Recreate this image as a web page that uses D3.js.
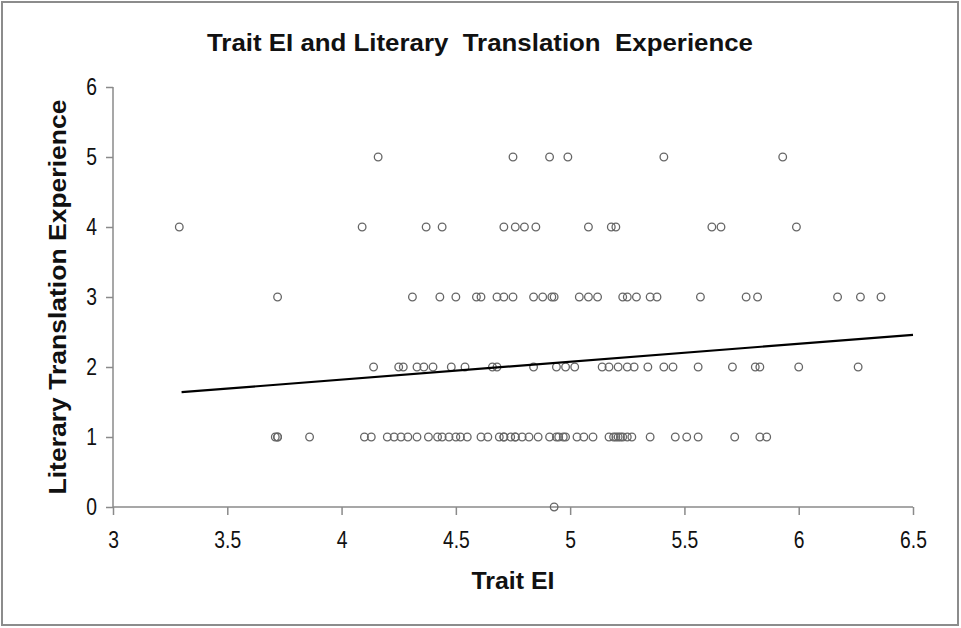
<!DOCTYPE html>
<html>
<head>
<meta charset="utf-8">
<script src="https://cdn.jsdelivr.net/npm/d3@7"></script>
<style>
  body { margin: 0; background: #fff; }
  text { font-family: "Liberation Sans Narrow", "Arial Narrow", "Liberation Sans", Arial, sans-serif; fill: #111; }
  .axis path, .axis line { stroke: #8a8a8a; stroke-width: 1.5; }
</style>
</head>
<body>
<div id="chart"></div>
<script>
// Trait EI scores (x) grouped by literary translation experience level (y)
const level0 = [4.93];
const level1 = [3.71, 3.72, 3.72, 3.86, 4.10, 4.13, 4.20, 4.23, 4.26, 4.29, 4.33, 4.38, 4.42, 4.44,
    4.47, 4.50, 4.52, 4.55, 4.61, 4.64, 4.69, 4.71, 4.71, 4.74, 4.76, 4.76, 4.79, 4.82, 4.86, 4.91,
    4.94, 4.95, 4.97, 4.98, 5.03, 5.06, 5.10, 5.17, 5.19, 5.20, 5.21, 5.22, 5.23, 5.25, 5.27, 5.35,
    5.46, 5.51, 5.56, 5.72, 5.83, 5.86];
const level2 = [4.14, 4.25, 4.27, 4.33, 4.36, 4.40, 4.48, 4.54, 4.66, 4.68, 4.84, 4.94, 4.98, 5.02,
    5.14, 5.17, 5.21, 5.25, 5.28, 5.34, 5.41, 5.45, 5.56, 5.71, 5.81, 5.83, 6.00, 6.26];
const level3 = [3.72, 4.31, 4.43, 4.50, 4.59, 4.61, 4.68, 4.71, 4.75, 4.84, 4.88, 4.92, 4.93, 5.04,
    5.08, 5.12, 5.23, 5.25, 5.29, 5.35, 5.38, 5.57, 5.77, 5.82, 6.17, 6.27, 6.36];
const level4 = [3.29, 4.09, 4.37, 4.44, 4.71, 4.76, 4.80, 4.85, 5.08, 5.18, 5.20, 5.62, 5.66, 5.99];
const level5 = [4.16, 4.75, 4.91, 4.99, 5.41, 5.93];

// linear trend line end points
const trendX = [3.3, 6.5];
const trendY = [1.64, 2.46];

const xTicks = [3, 3.5, 4, 4.5, 5, 5.5, 6, 6.5];
const yTicks = [0, 1, 2, 3, 4, 5, 6];

const chartTitle = "Trait EI and Literary  Translation  Experience";
const xTitle = "Trait EI";
const yTitle = "Literary Translation Experience";

const W = 961, H = 628;
const margin = {top: 87, right: 48, bottom: 121, left: 113};
const width = W - margin.left - margin.right;
const height = H - margin.top - margin.bottom;

const svg = d3.select('#chart').append('svg')
    .attr('width', W)
    .attr('height', H);

// outer frame
svg.append('rect')
    .attr('x', 2).attr('y', 2)
    .attr('width', W - 5).attr('height', H - 5)
    .attr('fill', 'none')
    .attr('stroke', '#8c8c8c')
    .attr('stroke-width', 2);

const g = svg.append('g')
    .attr('transform', `translate(${margin.left},${margin.top})`);

const x = d3.scaleLinear().domain([3, 6.5]).range([0, width]);
const y = d3.scaleLinear().domain([0, 6]).range([height, 0]);

// axes
const xAxis = g.append('g')
    .attr('class', 'axis')
    .attr('transform', `translate(0,${height})`)
    .call(d3.axisBottom(x).tickValues(xTicks).tickSize(8).tickPadding(17).tickFormat(d3.format('')));

const yAxis = g.append('g')
    .attr('class', 'axis')
    .call(d3.axisLeft(y).tickValues(yTicks).tickSize(7).tickPadding(9).tickFormat(d3.format('d')));

xAxis.select('.domain').attr('d', `M0,0H${width}`);
yAxis.select('.domain').attr('d', `M0,0V${height}`);

// narrow look for tick labels
xAxis.selectAll('.tick text')
    .style('font-size', '23px')
    .attr('transform', 'scale(0.84,1)');
yAxis.selectAll('.tick text')
    .style('font-size', '23px')
    .attr('x', -16 / 0.84)
    .attr('transform', 'scale(0.84,1)');

// points
const points = [];
[level0, level1, level2, level3, level4, level5].forEach((arr, lvl) => {
    arr.forEach(v => points.push({x: v, y: lvl}));
});

g.selectAll('.dot')
    .data(points)
    .enter().append('circle')
    .attr('class', 'dot')
    .attr('cx', d => x(d.x))
    .attr('cy', d => y(d.y))
    .attr('r', 3.8)
    .attr('fill', 'none')
    .attr('stroke', '#666')
    .attr('stroke-width', 1.3);

// trend line
g.append('line')
    .attr('x1', x(trendX[0])).attr('y1', y(trendY[0]))
    .attr('x2', x(trendX[1])).attr('y2', y(trendY[1]))
    .attr('stroke', '#000')
    .attr('stroke-width', 2.2);

// titles (stretched to the widths seen in the picture)
svg.append('text')
    .attr('x', 480).attr('y', 51)
    .attr('text-anchor', 'middle')
    .attr('textLength', 546)
    .attr('lengthAdjust', 'spacingAndGlyphs')
    .attr('xml:space', 'preserve')
    .style('font-size', '24px')
    .style('font-weight', 'bold')
    .style('white-space', 'pre')
    .text(chartTitle);

svg.append('text')
    .attr('x', 513).attr('y', 589)
    .attr('text-anchor', 'middle')
    .attr('textLength', 83)
    .attr('lengthAdjust', 'spacingAndGlyphs')
    .style('font-size', '24px')
    .style('font-weight', 'bold')
    .text(xTitle);

svg.append('text')
    .attr('transform', `translate(66,297) rotate(-90)`)
    .attr('text-anchor', 'middle')
    .attr('textLength', 395)
    .attr('lengthAdjust', 'spacingAndGlyphs')
    .style('font-size', '24px')
    .style('font-weight', 'bold')
    .text(yTitle);
</script>
</body>
</html>
